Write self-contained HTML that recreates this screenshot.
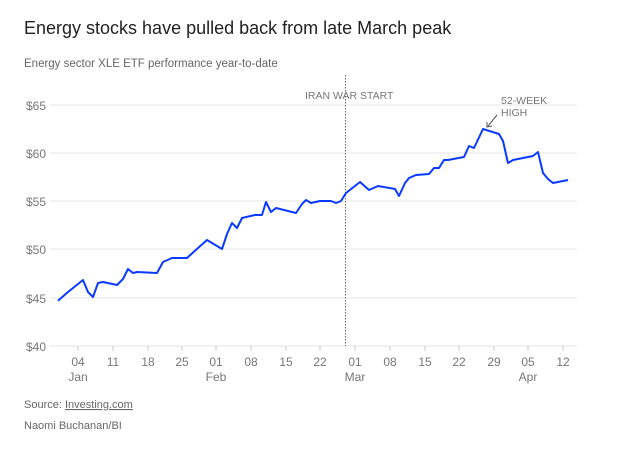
<!DOCTYPE html>
<html><head><meta charset="utf-8"><style>
body{margin:0;background:#fff;width:627px;height:446px;overflow:hidden;font-family:"Liberation Sans",sans-serif;}
</style></head><body>
<svg width="627" height="446" xmlns="http://www.w3.org/2000/svg" font-family="Liberation Sans, sans-serif">
<text x="24" y="34" font-size="18" fill="#222">Energy stocks have pulled back from late March peak</text>
<text x="24" y="67" font-size="11.5" fill="#666">Energy sector XLE ETF performance year-to-date</text>
<g stroke="#e6e6e6" stroke-width="1">
<line x1="50" x2="577" y1="105" y2="105"/><line x1="50" x2="577" y1="153" y2="153"/>
<line x1="50" x2="577" y1="201" y2="201"/><line x1="50" x2="577" y1="249" y2="249"/>
<line x1="50" x2="577" y1="298" y2="298"/><line x1="50" x2="577" y1="346" y2="346"/>
</g>
<g font-size="12" fill="#777" text-anchor="end">
<text x="46" y="110">$65</text><text x="46" y="158">$60</text><text x="46" y="206">$55</text>
<text x="46" y="254">$50</text><text x="46" y="303">$45</text><text x="46" y="351">$40</text>
</g>
<g stroke="#ccc"><line x1="78" x2="78" y1="346" y2="351"/><line x1="113" x2="113" y1="346" y2="351"/><line x1="148" x2="148" y1="346" y2="351"/><line x1="182" x2="182" y1="346" y2="351"/><line x1="216" x2="216" y1="346" y2="351"/><line x1="251" x2="251" y1="346" y2="351"/><line x1="286" x2="286" y1="346" y2="351"/><line x1="320" x2="320" y1="346" y2="351"/><line x1="355" x2="355" y1="346" y2="351"/><line x1="390" x2="390" y1="346" y2="351"/><line x1="425" x2="425" y1="346" y2="351"/><line x1="459" x2="459" y1="346" y2="351"/><line x1="494" x2="494" y1="346" y2="351"/><line x1="528" x2="528" y1="346" y2="351"/><line x1="563" x2="563" y1="346" y2="351"/></g>
<g font-size="12" fill="#777" text-anchor="middle">
<text x="78" y="366">04</text><text x="113" y="366">11</text><text x="148" y="366">18</text><text x="182" y="366">25</text><text x="216" y="366">01</text><text x="251" y="366">08</text><text x="286" y="366">15</text><text x="320" y="366">22</text><text x="355" y="366">01</text><text x="390" y="366">08</text><text x="425" y="366">15</text><text x="459" y="366">22</text><text x="494" y="366">29</text><text x="528" y="366">05</text><text x="563" y="366">12</text>
<text x="78" y="381">Jan</text><text x="216" y="381">Feb</text><text x="355" y="381">Mar</text><text x="528" y="381">Apr</text>
</g>
<line x1="345.5" x2="345.5" y1="75" y2="346" stroke="#666" stroke-dasharray="1.5,1.5"/>
<text x="305" y="99" font-size="10.5" fill="#777">IRAN WAR START</text>
<text x="501" y="104" font-size="10.5" fill="#777">52-WEEK</text>
<text x="501" y="116" font-size="10.5" fill="#777">HIGH</text>
<line x1="497" y1="115" x2="488" y2="126" stroke="#555" stroke-width="1"/>
<polyline points="487,122 487,127 492,126" fill="none" stroke="#555" stroke-width="1"/>
<polyline fill="none" stroke="#0a3aff" stroke-width="2" stroke-linejoin="round" points="58,300.7 68,292 83,280 88,292 93,297 98,283 103,282 117,285 123,279 128,269 133,273 137,272 157,273 163,262 172,258 187,258 198,248 207,240 222,249 227,234 232,223 237,228 242,218 255,215 262,215 266,202 271,212 276,208 296,213 302,204 306,200 311,203 320,201 327,201 331,201 336,203 341,201 346,193 360,182 369,190 378,186 395,189 399,196 405,183 409,178 416,175 429,174 434,168 439,168 444,160 448,160 464,157 469,146 474,148 483,129 499,134 503,141 508,163 513,160 533,156 538,152 543,173 548,179 553,183 568,180"/>
<text x="24" y="408" font-size="11" fill="#666">Source: <tspan text-decoration="underline">Investing.com</tspan></text>
<text x="24" y="429" font-size="11" fill="#666">Naomi Buchanan/BI</text>
</svg>
</body></html>
